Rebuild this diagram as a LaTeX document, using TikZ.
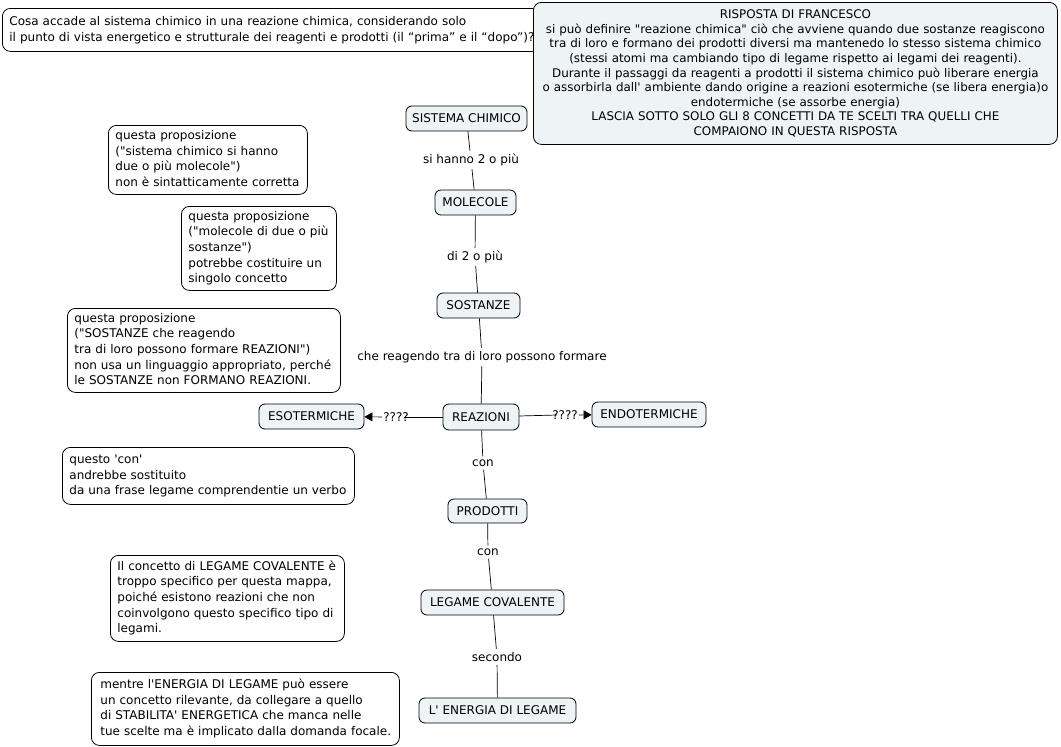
\documentclass[tikz,border=0pt]{standalone}
\usepackage{fontspec}
\setmainfont{DejaVu Sans}[Ligatures=TeXOff]
\usetikzlibrary{arrows.meta}
\definecolor{conceptfill}{HTML}{EEF3F6}
\newcommand{\cmtlines}[1]{\begin{tabular}{@{}l@{}}#1\end{tabular}}
\begin{document}
\begin{tikzpicture}[x=1pt,y=-1pt,
 concept/.style={draw=black, fill=conceptfill, rounded corners=6pt, font=\fontsize{12}{14}\selectfont, inner sep=0pt, line width=0.8pt},
 comment/.style={draw=black, fill=white, rounded corners=8pt, font=\fontsize{12}{15.7}\selectfont, align=left, inner xsep=7pt, inner ysep=0pt, anchor=north west, line width=0.8pt},
 lab/.style={font=\fontsize{12}{14}\selectfont, inner sep=3pt},
 link/.style={line width=0.7pt},
 arr/.style={link, -{Triangle[length=8pt,width=9pt]}}
]
\useasboundingbox[fill=white] (0,0) rectangle (1061,747);

% focus question
\node[comment, font=\fontsize{12}{16}\selectfont, text width=524, minimum height=43] (q) at (2,8)
 {\cmtlines{Cosa accade al sistema chimico in una reazione chimica, considerando solo\\il punto di vista energetico e strutturale dei reagenti e prodotti (il “prima” e il “dopo”)?}};

% response
\node[draw=black, fill=conceptfill, rounded corners=8pt, line width=0.8pt, align=center, anchor=north west,
 font=\fontsize{11.9}{14.6}\selectfont, text width=520, inner xsep=2pt, inner ysep=0pt, minimum height=142] (r) at (533,2)
 {RISPOSTA DI FRANCESCO\\si può definire "reazione chimica" ciò che avviene quando due sostanze reagiscono\\tra di loro e formano dei prodotti diversi ma mantenedo lo stesso sistema chimico\\(stessi atomi ma cambiando tipo di legame rispetto ai legami dei reagenti).\\Durante il passaggi da reagenti a prodotti il sistema chimico può liberare energia\\o assorbirla dall' ambiente dando origine a reazioni esotermiche (se libera energia)o\\endotermiche (se assorbe energia)\\LASCIA SOTTO SOLO GLI 8 CONCETTI DA TE SCELTI TRA QUELLI CHE\\COMPAIONO IN QUESTA RISPOSTA};

% concepts
\node[concept, minimum width=121, minimum height=25] (sc) at (466.5,118.5) {SISTEMA CHIMICO};
\node[concept, minimum width=81, minimum height=25] (mol) at (475.5,202.5) {MOLECOLE};
\node[concept, minimum width=83, minimum height=25] (sos) at (478.5,305.5) {SOSTANZE};
\node[concept, minimum width=76, minimum height=26] (rea) at (481,417) {REAZIONI};
\node[concept, minimum width=105, minimum height=25] (eso) at (311.5,416.5) {ESOTERMICHE};
\node[concept, minimum width=114, minimum height=25] (endo) at (649,414.5) {ENDOTERMICHE};
\node[concept, minimum width=79, minimum height=24] (pro) at (487.5,511) {PRODOTTI};
\node[concept, minimum width=143, minimum height=25] (lc) at (492.5,602.5) {LEGAME COVALENTE};
\node[concept, minimum width=157, minimum height=25] (en) at (497.5,710.5) {L' ENERGIA DI LEGAME};

% link labels
\node[lab] (l1) at (471,160) {si hanno 2 o più};
\node[lab] (l2) at (475,257) {di 2 o più};
\node[lab] (l3) at (482,357) {che reagendo tra di loro possono formare};
\node[lab, inner sep=1pt] (l4) at (396,417) {????};
\node[lab, inner sep=1pt] (l5) at (565,415) {????};
\node[lab] (l6) at (483,463) {con};
\node[lab] (l7) at (488,552) {con};
\node[lab] (l8) at (497,657) {secondo};

% links
\draw[link] (sc) -- (l1);
\draw[link] (l1) -- (mol);
\draw[link] (mol) -- (l2);
\draw[link] (l2) -- (sos);
\draw[link] (sos) -- (l3);
\draw[link] (l3) -- (rea);
\draw[link] (rea) -- ([xshift=-6pt]l4.east);
\draw[arr] (l4) -- (eso);
\draw[link] (rea) -- ([xshift=6pt]l5.west);
\draw[arr] (l5) -- (endo);
\draw[link] (rea) -- (l6);
\draw[link] (l6) -- (pro);
\draw[link] (pro) -- (l7);
\draw[link] (l7) -- (lc);
\draw[link] (lc) -- (l8);
\draw[link] (l8) -- (en);

% comments
\node[comment, text width=185, minimum height=69] (c1) at (108,125)
 {\cmtlines{questa proposizione\\("sistema chimico si hanno\\due o più molecole")\\non è sintatticamente corretta}};
\node[comment, text width=141, minimum height=84] (c2) at (181,206)
 {\cmtlines{questa proposizione\\("molecole di due o più\\sostanze")\\potrebbe costituire un\\singolo concetto}};
\node[comment, text width=259, minimum height=84] (c3) at (67,308)
 {\cmtlines{questa proposizione\\("SOSTANZE che reagendo\\tra di loro possono formare REAZIONI")\\non usa un linguaggio appropriato, perché\\le SOSTANZE non FORMANO REAZIONI.}};
\node[comment, text width=278, minimum height=57] (c4) at (62,447)
 {\cmtlines{questo 'con'\\andrebbe sostituito\\da una frase legame comprendentie un verbo}};
\node[comment, text width=220, minimum height=86] (c5) at (110,555)
 {\cmtlines{Il concetto di LEGAME COVALENTE è\\troppo specifico per questa mappa,\\poiché esistono reazioni che non\\coinvolgono questo specifico tipo di\\legami.}};
\node[comment, inner xsep=9pt, text width=290, minimum height=73] (c6) at (91,672)
 {\cmtlines{mentre l'ENERGIA DI LEGAME può essere\\un concetto rilevante, da collegare a quello\\di STABILITA' ENERGETICA che manca nelle\\tue scelte ma è implicato dalla domanda focale.}};
\end{tikzpicture}
\end{document}
